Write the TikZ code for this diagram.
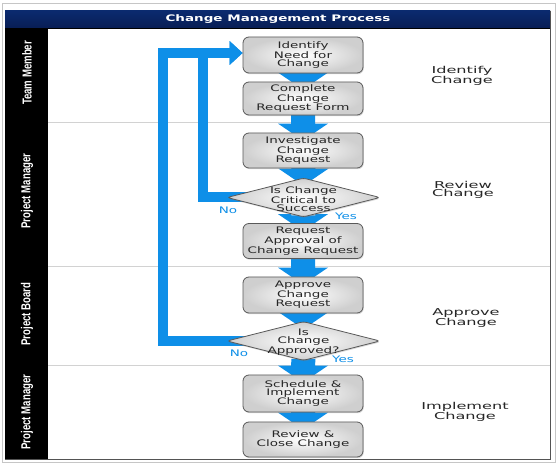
\documentclass[tikz,border=0pt]{standalone}
\usepackage{fontspec}
\usetikzlibrary{shapes.geometric,arrows.meta,calc,shadows}
\newfontfamily\boxfont[FakeStretch=1.5]{DejaVu Sans}
\newfontfamily\stagefont[FakeStretch=1.7]{DejaVu Sans}
\newfontfamily\lanefont[FakeStretch=0.74]{Liberation Sans}
\definecolor{flowblue}{HTML}{0E8FE8}
\definecolor{barTop}{HTML}{0B2A6E}
\definecolor{barMid}{HTML}{2D64C0}
\definecolor{barBot}{HTML}{081E55}
\pgfdeclarelayer{back}
\pgfdeclarelayer{flow}
\pgfsetlayers{back,flow,main}

% block arrow from the bottom of one shape into the top of the next
\newcommand\flowarrow[2]{%
  \fill[flowblue] ($(#1.south)+(-12,-2)$) -- ($(#2.north)+(-12,-9)$)
    -- ($(#2.north)+(-25,-9)$) -- ($(#2.north)+(0,8)$)
    -- ($(#2.north)+(25,-9)$) -- ($(#2.north)+(12,-9)$)
    -- ($(#1.south)+(12,-2)$) -- cycle;}

\begin{document}
\begin{tikzpicture}[x=1pt,y=-1pt,
  stepbox/.style={rectangle, rounded corners=6pt, minimum width=120pt,
    draw=gray!70!black, line width=0.8pt, inner color=white, outer color=gray!38,
    drop shadow={shadow xshift=0.8pt, shadow yshift=-1.2pt, opacity=0.3},
    font=\boxfont\fontsize{9}{8.2}\selectfont, text=black!85, align=center, inner sep=0pt},
  decision/.style={diamond, rounded corners=3pt, minimum width=153pt, minimum height=39pt,
    draw=gray!70!black, line width=0.8pt, inner color=white, outer color=gray!38,
    drop shadow={shadow xshift=0.8pt, shadow yshift=-1.2pt, opacity=0.3}, inner sep=0pt},
  flowtext/.style={font=\boxfont\fontsize{9}{7.8}\selectfont, text=black!85, align=center, inner sep=0pt},
  answer/.style={font=\boxfont\fontsize{9}{9}\selectfont, text=flowblue, inner sep=0pt},
  stage/.style={font=\stagefont\fontsize{9.5}{8.3}\selectfont, text=black!85, align=center, inner sep=0pt},
  lane/.style={font=\lanefont\bfseries\fontsize{13}{13}\selectfont, text=white, rotate=90, inner sep=0pt},
  loopline/.style={draw=flowblue, line width=10pt, line join=miter,
    -{Triangle[length=13pt,width=23pt]}},
  titletext/.style={font=\boxfont\bfseries\fontsize{9}{9}\selectfont, text=white, inner sep=0pt}
]
\useasboundingbox (0,0) rectangle (558,465);

\begin{pgfonlayer}{back}
  \fill[white] (0,0) rectangle (558,465);
  \draw[gray!45, line width=0.8pt] (2.5,3) rectangle (555.5,462.5);
  % title bar
  \shade[top color=barTop, middle color=barMid, bottom color=barBot] (5,11) rectangle (550,28);
  \draw[black, line width=0.8pt] (5,28) -- (550,28);
  % lane header column
  \fill[black] (5,28) rectangle (48,460);
  % lane separators
  \draw[gray!35, line width=0.8pt] (48,122) -- (550,122);
  \draw[gray!35, line width=0.8pt] (48,266) -- (550,266);
  \draw[gray!35, line width=0.8pt] (48,365) -- (550,365);
  % frame edges
  \draw[gray!65!black, line width=1pt] (550,11) -- (550,460) -- (5,460);
\end{pgfonlayer}

\node[titletext] (title) at (278,19.5) {Change Management Process};

% lane names
\node[lane] (lane1) at (27,73) {Team Member};
\node[lane] (lane2) at (27,191) {Project Manager};
\node[lane] (lane3) at (27,314) {Project Board};
\node[lane] (lane4) at (27,412) {Project Manager};

% stage names
\node[stage] (stage1) at (462,76) {Identify\\Change};
\node[stage] (stage2) at (463,190) {Review\\Change};
\node[stage] (stage3) at (466,318) {Approve\\Change};
\node[stage] (stage4) at (465,412) {Implement\\Change};

% process steps
\node[stepbox, minimum height=36pt] (n1) at (303,55) {Identify\\Need for\\Change};
\node[stepbox, minimum height=33pt] (n2) at (303,98.5) {Complete\\Change\\Request Form};
\node[stepbox, minimum height=35pt] (n3) at (303,150.5) {Investigate\\Change\\Request};
\node[decision] (d1) at (303.5,197.5) {};
\node[flowtext] (d1text) at (303.5,199) {Is Change\\Critical to\\Success};
\node[stepbox, minimum height=35pt] (n5) at (303,241) {Request\\Approval of\\Change Request};
\node[stepbox, minimum height=36pt] (n6) at (303,295) {Approve\\Change\\Request};
\node[decision] (d2) at (303.5,341) {};
\node[flowtext] (d2text) at (303.5,342) {Is\\Change\\Approved?};
\node[stepbox, minimum height=37pt] (n8) at (303,393.5) {Schedule \&\\Implement\\Change};
\node[stepbox, minimum height=35pt] (n9) at (303,439.5) {Review \&\\Close Change};

% branch labels
\node[answer] (no1) at (228,210) {No};
\node[answer] (yes1) at (346,216) {Yes};
\node[answer] (no2) at (239,353) {No};
\node[answer] (yes2) at (343,359) {Yes};

\begin{pgfonlayer}{flow}
  \coordinate (innerTop) at (203,53);
  \coordinate (outerTop) at (163,53);
  \draw[loopline] (d2.center) -| (outerTop) -- (n1.west |- outerTop);
  \draw[loopline] (d1.center) -| (innerTop) -- (n1.west |- innerTop);
  \flowarrow{n1}{n2}
  \flowarrow{n2}{n3}
  \flowarrow{n3}{d1}
  \flowarrow{d1}{n5}
  \flowarrow{n5}{n6}
  \flowarrow{n6}{d2}
  \flowarrow{d2}{n8}
  \flowarrow{n8}{n9}
\end{pgfonlayer}
\end{tikzpicture}
\end{document}
